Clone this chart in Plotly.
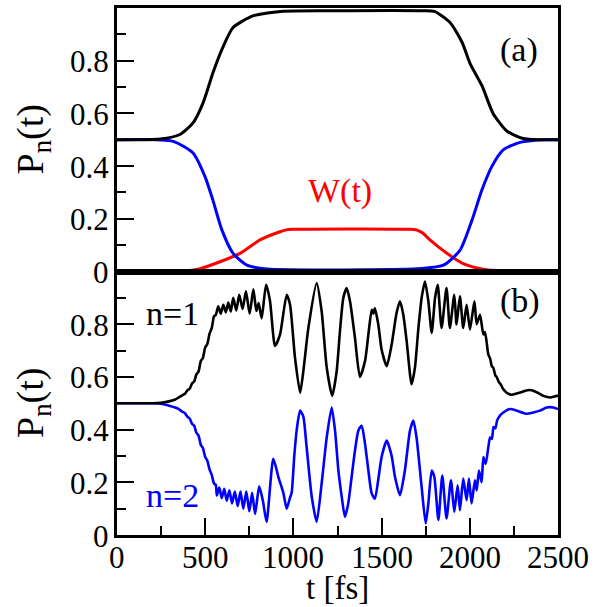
import plotly.graph_objects as go
from plotly.subplots import make_subplots

# ---------------- data ----------------
# panel (a)
ta_p1 = [0, 244, 357, 431, 488, 544, 595, 658, 771, 941, 1200, 1735, 1800, 1888, 1956, 2001, 2069, 2132, 2210, 2302, 2400, 2500]
pa_p1 = [0.5, 0.503, 0.52, 0.564, 0.64, 0.754, 0.843, 0.926, 0.97, 0.988, 0.99, 0.99, 0.987, 0.945, 0.87, 0.79, 0.705, 0.6, 0.533, 0.505, 0.5, 0.5]

ta_p2 = [0, 318, 431, 499, 544, 595, 658, 737, 850, 1700, 1850, 1944, 2012, 2069, 2126, 2188, 2285, 2415, 2500]
pa_p2 = [0.5, 0.494, 0.45, 0.36, 0.27, 0.157, 0.069, 0.024, 0.01, 0.01, 0.024, 0.08, 0.194, 0.31, 0.4, 0.461, 0.49, 0.5, 0.5]

ta_w = [0, 340, 470, 584, 697, 811, 924, 960, 998, 1661, 1700, 1735, 1774, 1870, 1962, 2075, 2188, 2300, 2500]
pa_w = [0, 0, 0.011, 0.037, 0.069, 0.12, 0.151, 0.158, 0.16, 0.16, 0.157, 0.145, 0.12, 0.069, 0.03, 0.009, 0.002, 0, 0]

# panel (b)
tb_p1 = [0, 200, 250, 300, 330, 350, 370, 385, 400, 412, 425, 438, 450, 462, 475, 487, 500, 512, 525, 537,
         550, 560, 574, 588, 603, 617, 631, 645, 659, 676, 693, 712, 731, 752, 773, 790, 803, 820, 845, 867,
         896, 924, 962, 981, 1009, 1038, 1056, 1085, 1132, 1160, 1189, 1220, 1245, 1264, 1283, 1302, 1321,
         1349, 1377, 1406, 1425, 1444, 1453, 1462, 1481, 1500, 1529, 1557, 1585, 1604, 1623, 1642, 1670,
         1689, 1708, 1727, 1746, 1765, 1784, 1803, 1818, 1840, 1868, 1887, 1912, 1925, 1944, 1963, 1982,
         2001, 2026, 2039, 2058, 2077, 2086, 2105, 2115, 2125, 2133, 2145, 2152, 2165, 2175, 2190, 2209,
         2237, 2266, 2303, 2341, 2379, 2417, 2455, 2492, 2500]
pb_p1 = [0.5, 0.5, 0.502, 0.508, 0.514, 0.522, 0.53, 0.536, 0.55, 0.555, 0.575, 0.583, 0.61, 0.62, 0.66, 0.672, 0.712, 0.725, 0.765, 0.785,
         0.83, 0.835, 0.868, 0.84, 0.874, 0.845, 0.882, 0.848, 0.9, 0.852, 0.912, 0.858, 0.925, 0.84, 0.932, 0.85, 0.88, 0.822, 0.95, 0.89,
         0.717, 0.76, 0.912, 0.874, 0.673, 0.54, 0.62, 0.786, 0.956, 0.85, 0.635, 0.528, 0.62, 0.774, 0.9, 0.937, 0.887,
         0.748, 0.6, 0.66, 0.761, 0.855, 0.84, 0.86, 0.8, 0.704, 0.641, 0.723, 0.843, 0.887, 0.836, 0.736, 0.572,
         0.635, 0.78, 0.9, 0.962, 0.887, 0.767, 0.9, 0.95, 0.786, 0.937, 0.786, 0.912, 0.799, 0.906, 0.786, 0.874,
         0.78, 0.887, 0.8, 0.836, 0.761, 0.77, 0.685, 0.67, 0.64, 0.635, 0.605, 0.6, 0.58, 0.572, 0.553, 0.54,
         0.532, 0.537, 0.545, 0.55, 0.542, 0.528, 0.522, 0.528, 0.528]

tb_p2 = [0, 200, 250, 300, 330, 350, 370, 385, 400, 412, 425, 438, 450, 462, 475, 487, 500, 512, 525, 537,
         550, 560, 566, 580, 594, 608, 622, 637, 652, 668, 684, 700, 716, 733, 750, 766, 783, 806, 827, 848,
         886, 915, 943, 962, 980, 990, 1005, 1019, 1038, 1056, 1075, 1104, 1132, 1160, 1189, 1217, 1236, 1255,
         1274, 1292, 1311, 1330, 1349, 1368, 1387, 1406, 1425, 1444, 1462, 1481, 1500, 1529, 1557, 1576, 1604,
         1632, 1661, 1680, 1698, 1727, 1750, 1765, 1784, 1799, 1822, 1844, 1868, 1893, 1912, 1931, 1944, 1963,
         1982, 1995, 2010, 2029, 2039, 2052, 2067, 2077, 2090, 2105, 2115, 2125, 2135, 2145, 2155, 2171, 2190,
         2228, 2266, 2322, 2360, 2398, 2436, 2474, 2500]
pb_p2 = [0.5, 0.5, 0.498, 0.49, 0.484, 0.478, 0.468, 0.462, 0.448, 0.442, 0.422, 0.414, 0.388, 0.378, 0.342, 0.33, 0.296, 0.282, 0.248, 0.228,
         0.195, 0.19, 0.15, 0.18, 0.14, 0.175, 0.13, 0.17, 0.12, 0.165, 0.11, 0.165, 0.1, 0.165, 0.09, 0.16, 0.08, 0.185, 0.13, 0.05,
         0.289, 0.22, 0.16, 0.1, 0.14, 0.16, 0.3, 0.4, 0.472, 0.45, 0.333, 0.145, 0.05, 0.195, 0.371, 0.484, 0.396, 0.245,
         0.145, 0.069, 0.12, 0.22, 0.32, 0.396, 0.415, 0.346, 0.245, 0.157, 0.138, 0.21, 0.296, 0.358, 0.3, 0.22, 0.151,
         0.245, 0.396, 0.434, 0.37, 0.182, 0.044, 0.12, 0.245, 0.22, 0.057, 0.226, 0.063, 0.208, 0.088, 0.189, 0.094, 0.214,
         0.132, 0.214, 0.12, 0.208, 0.17, 0.245, 0.2, 0.296, 0.27, 0.333, 0.37, 0.365, 0.41, 0.405, 0.435, 0.453, 0.465,
         0.478, 0.472, 0.46, 0.465, 0.472, 0.484, 0.484, 0.478]

y_ticks = [0, 0.2, 0.4, 0.6, 0.8]
y_ticktext = ["0", "0.2", "0.4", "0.6", "0.8"]
y_minor = [0.1, 0.3, 0.5, 0.7, 0.9]
x_ticks = [0, 500, 1000, 1500, 2000, 2500]
x_ticktext = ["0", "500", "1000", "1500", "2000", "2500"]
x_minor = [250, 750, 1250, 1750, 2250]

# ---------------- figure ----------------
FONT = "Liberation Serif"
BLACK, BLUE, RED = "black", "blue", "red"

fig = make_subplots(rows=2, cols=1, vertical_spacing=0)

fig.add_trace(go.Scatter(x=ta_w, y=pa_w, mode="lines", line=dict(color=RED, width=3, shape="spline", smoothing=0.6)), 1, 1)
fig.add_trace(go.Scatter(x=ta_p2, y=pa_p2, mode="lines", line=dict(color=BLUE, width=3, shape="spline", smoothing=0.6)), 1, 1)
fig.add_trace(go.Scatter(x=ta_p1, y=pa_p1, mode="lines", line=dict(color=BLACK, width=3, shape="spline", smoothing=0.6)), 1, 1)
fig.add_trace(go.Scatter(x=tb_p2, y=pb_p2, mode="lines", line=dict(color=BLUE, width=2.6, shape="spline", smoothing=0.6)), 2, 1)
fig.add_trace(go.Scatter(x=tb_p1, y=pb_p1, mode="lines", line=dict(color=BLACK, width=2.6, shape="spline", smoothing=0.6)), 2, 1)

def ann(text, x, y, xref, yref, color=BLACK, size=34, angle=0, xanchor="center", yanchor="middle", xshift=0, yshift=0):
    return dict(text=text, x=x, y=y, xref=xref, yref=yref, showarrow=False,
                xanchor=xanchor, yanchor=yanchor, textangle=angle, xshift=xshift, yshift=yshift,
                font=dict(family=FONT, size=size, color=color))

annotations = [
    ann("(a)", 2279, 0.84, "x", "y"),
    ann("W(t)", 1264, 0.305, "x", "y", color=RED),
    ann("(b)", 2285, 0.887, "x2", "y2"),
    ann("n=1", 312, 0.84, "x2", "y2"),
    ann("n=2", 317, 0.151, "x2", "y2", color=BLUE),
    ann("P<sub>n</sub>(t)", -0.19, 0.751, "paper", "paper", size=38, angle=-90),
    ann("P<sub>n</sub>(t)", -0.19, 0.251, "paper", "paper", size=38, angle=-90),
    ann("t [fs]", 0.501, -0.062, "paper", "paper", size=33, yanchor="top"),
]
# tick labels (placed through the axes' own scales)
for yref in ("y", "y2"):
    for v, s in zip(y_ticks, y_ticktext):
        annotations.append(ann(s, 0, v, "paper", yref, size=31, xanchor="right", xshift=-6, yshift=-1))
for v, s in zip(x_ticks, x_ticktext):
    annotations.append(ann(s, v, 0, "x2", "paper", size=31, yanchor="middle", yshift=-22))

def yaxis_cfg():
    return dict(range=[0, 1], tickvals=y_ticks, showticklabels=False,
                showline=True, linecolor=BLACK, linewidth=3, mirror=True,
                showgrid=False, zeroline=False,
                ticks="inside", ticklen=17, tickwidth=2, tickcolor=BLACK,
                minor=dict(ticks="inside", ticklen=9, tickwidth=2, tickcolor=BLACK, tickvals=y_minor))

fig.update_layout(
    width=596, height=607,
    margin=dict(l=117, r=38, t=5, b=72),
    paper_bgcolor="white", plot_bgcolor="white",
    showlegend=False,
    xaxis=dict(range=[0, 2500], showline=True, linecolor=BLACK, linewidth=3, mirror=True,
               showgrid=False, zeroline=False, showticklabels=False, ticks=""),
    xaxis2=dict(range=[0, 2500], tickvals=x_ticks, showticklabels=False,
                showline=True, linecolor=BLACK, linewidth=3, mirror=True,
                showgrid=False, zeroline=False,
                ticks="inside", ticklen=17, tickwidth=2, tickcolor=BLACK,
                minor=dict(ticks="inside", ticklen=9, tickwidth=2, tickcolor=BLACK, tickvals=x_minor)),
    yaxis=yaxis_cfg(),
    yaxis2=yaxis_cfg(),
    annotations=annotations,
)

fig.write_html("out.html")
